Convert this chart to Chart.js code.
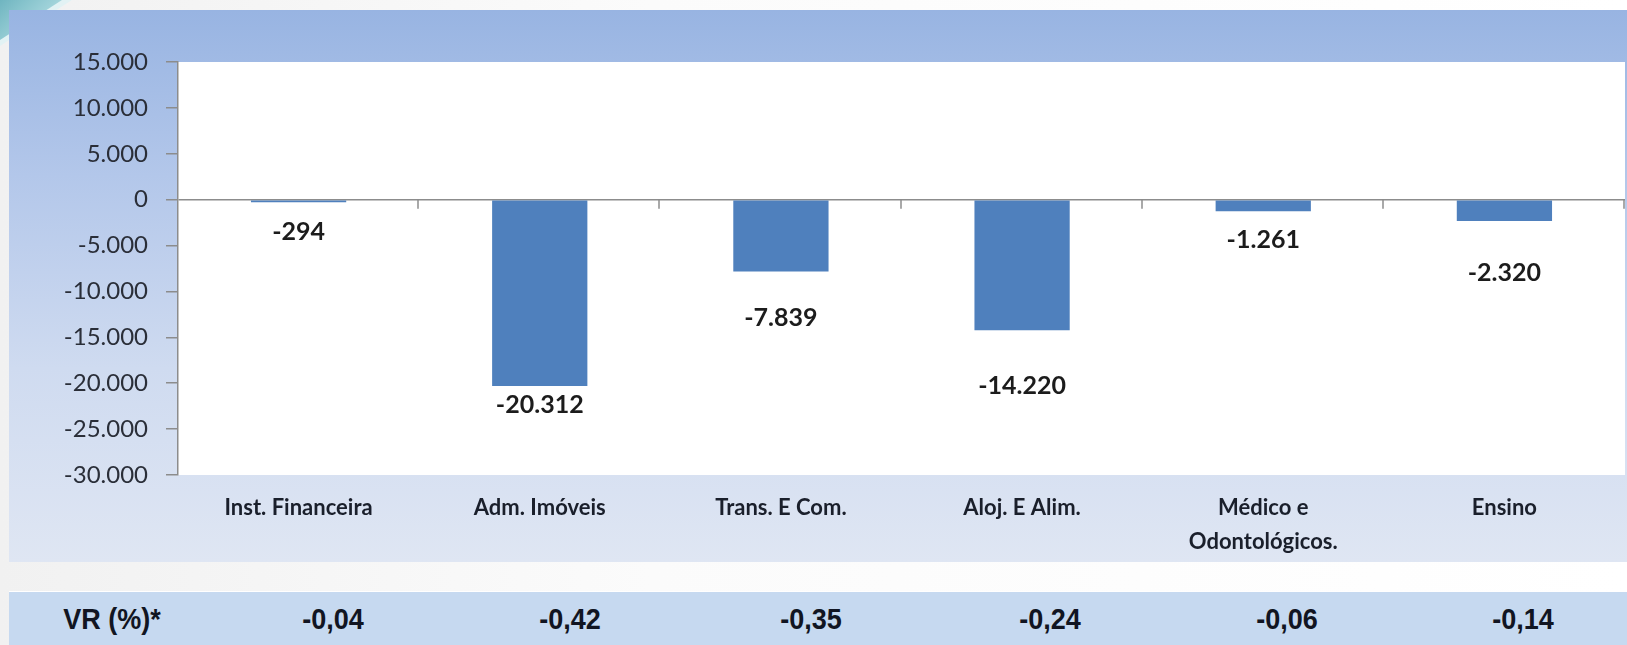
<!DOCTYPE html>
<html>
<head>
<meta charset="utf-8">
<script src="https://cdn.jsdelivr.net/npm/chart.js@4.4.0/dist/chart.umd.min.js"></script>
<style>
    html, body { margin: 0; padding: 0; }
    body {
        width: 1627px; height: 645px; position: relative; overflow: hidden;
        background: linear-gradient(to right, #f1f1f1 0%, #fbfbfb 40%, #ffffff 100%);
    }
    .swoosh {
        position: absolute; left: 0; top: 0; width: 62px; height: 40px;
        background: linear-gradient(135deg, #6fb5c0 0%, #9fd2d9 55%, #d2ecef 100%);
        clip-path: polygon(0 0, 100% 0, 0 100%);
    }
    .swoosh2 {
        position: absolute; left: 0; top: 0; width: 72px; height: 46px;
        background: #e2f2f4;
        clip-path: polygon(0 0, 100% 0, 0 100%);
    }
    #panel {
        position: absolute; left: 9px; top: 10px; width: 1618px; height: 552px;
        background: linear-gradient(to bottom, #98b4e2 0%, #b3c7ea 30%, #cfdbf0 65%, #dfe6f3 100%);
    }
    #band {
        position: absolute; left: 9px; top: 591px; width: 1618px; height: 54px;
        background: #c6d9f0;
        border-top: 1px solid #ffffff;
        font-family: "Liberation Sans", Arial, sans-serif; font-weight: bold;
        font-size: 30px; color: #111522;
    }
    #band span {
        position: absolute; top: 10px; transform: translateX(-50%) scaleX(0.9);
        white-space: nowrap;
    }
</style>
</head>
<body>
<div class="swoosh2"></div>
<div class="swoosh"></div>
<div id="panel"><canvas id="vrChart" width="1618" height="552"></canvas></div>
<div id="band"></div>

<script>
    // dados
    const categories = ["Inst. Financeira", "Adm. Imóveis", "Trans. E Com.", "Aloj. E Alim.", ["Médico e", "Odontológicos."], "Ensino"];
    const saldo = [-294, -20312, -7839, -14220, -1261, -2320];
    const vrLabel = "VR (%)*";
    const vrValues = ["-0,04", "-0,42", "-0,35", "-0,24", "-0,06", "-0,14"];
    const yTicks = [15000, 10000, 5000, 0, -5000, -10000, -15000, -20000, -25000, -30000];

    // deslocamento (px) dos rotulos abaixo da barra, como no original
    const labelOffsets = [30, 19, 46, 56, 29, 52];
    const bandCenters = [112, 333, 570, 811, 1050, 1287, 1523];

    const fmt = (v) => {
        const s = Math.abs(v).toString().replace(/\B(?=(\d{3})+(?!\d))/g, ".");
        return (v < 0 ? "-" : "") + s;
    };

    const band = document.getElementById("band");
    [vrLabel].concat(vrValues).forEach((t, i) => {
        const sp = document.createElement("span");
        sp.textContent = t;
        sp.style.left = (bandCenters[i] - 9) + "px";
        band.appendChild(sp);
    });

    const plotBg = {
        id: "plotBg",
        beforeDraw(chart) {
            const { ctx, chartArea: a } = chart;
            ctx.save();
            ctx.fillStyle = "#ffffff";
            ctx.fillRect(a.left, a.top, a.right - a.left, a.bottom - a.top);
            ctx.restore();
        }
    };

    const zeroTicks = {
        id: "zeroTicks",
        afterDatasetsDraw(chart) {
            const { ctx, chartArea: a, scales } = chart;
            const y0 = scales.y.getPixelForValue(0);
            const w = (a.right - a.left) / categories.length;
            ctx.save();
            ctx.strokeStyle = "#8c8c8c";
            ctx.lineWidth = 1.5;
            for (let i = 1; i <= categories.length; i++) {
                const x = Math.round(a.left + i * w) - 1;
                ctx.beginPath();
                ctx.moveTo(x, y0);
                ctx.lineTo(x, y0 + 9);
                ctx.stroke();
            }
            ctx.restore();
        }
    };

    const valueLabels = {
        id: "valueLabels",
        afterDatasetsDraw(chart) {
            const { ctx } = chart;
            const meta = chart.getDatasetMeta(0);
            ctx.save();
            ctx.font = "bold 25px Lato";
            ctx.fillStyle = "#1c1c1c";
            ctx.textAlign = "center";
            ctx.textBaseline = "middle";
            meta.data.forEach((bar, i) => {
                ctx.fillText(fmt(saldo[i]), bar.x, bar.y + labelOffsets[i]);
            });
            ctx.restore();
        }
    };

    const ctx = document.getElementById("vrChart").getContext("2d");
    new Chart(ctx, {
        type: "bar",
        data: {
            labels: categories,
            datasets: [{
                label: "Saldo",
                data: saldo,
                backgroundColor: "#4f80bd",
                borderWidth: 0,
                categoryPercentage: 1,
                barPercentage: 0.395,
            }],
        },
        options: {
            responsive: false,
            animation: false,
            events: [],
            layout: { padding: { top: 52, right: 2, left: 0, bottom: 0 } },
            plugins: { legend: { display: false }, tooltip: { enabled: false } },
            scales: {
                x: {
                    grid: { display: false, drawTicks: false },
                    border: { display: false },
                    ticks: {
                        padding: 16,
                        autoSkip: false,
                        maxRotation: 0,
                        color: "#1a1f2b",
                        font: { family: "Lato", size: 22, weight: "bold", lineHeight: 1.55 },
                    },
                    afterFit: (s) => { s.height = 87; },
                },
                y: {
                    min: -30000,
                    max: 15000,
                    afterBuildTicks: (s) => { s.ticks = yTicks.map((v) => ({ value: v })); },
                    grid: {
                        color: (c) => (c.tick && c.tick.value === 0 ? "#8c8c8c" : "rgba(0,0,0,0)"),
                        lineWidth: 1.5,
                        tickColor: "#8c8c8c",
                        tickLength: 12,
                    },
                    border: { display: true, color: "#8c8c8c", width: 1.5 },
                    ticks: {
                        padding: 18,
                        color: "#2a2e38",
                        font: { family: "Lato", size: 24 },
                        callback: (v) => fmt(v),
                    },
                    afterFit: (s) => { s.width = 169; },
                },
            },
        },
        plugins: [plotBg, zeroTicks, valueLabels],
    });
</script>
</body>
</html>
